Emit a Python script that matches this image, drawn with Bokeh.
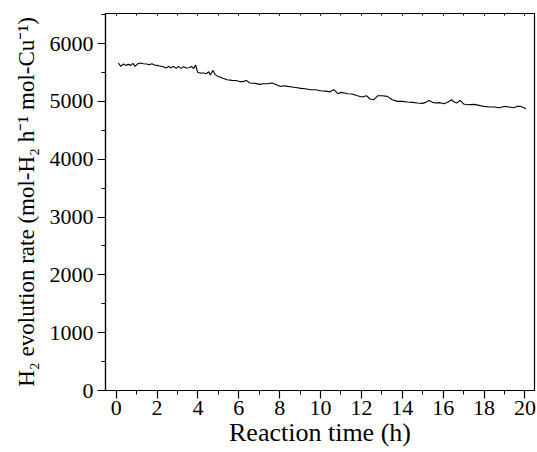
from bokeh.plotting import figure
from bokeh.models import LinearAxis, Range1d, SingleIntervalTicker, CustomJSTickFormatter
from bokeh.embed import file_html
from bokeh.resources import INLINE

time_h = [0.11, 0.23, 0.36, 0.47, 0.60, 0.72, 0.82, 0.93, 1.06, 1.18, 1.34, 1.50, 1.63, 1.75,
          1.88, 2.00, 2.12, 2.24, 2.35, 2.45, 2.57, 2.68, 2.81, 2.94, 3.04, 3.17, 3.30, 3.43,
          3.56, 3.69, 3.79, 3.89, 3.99, 4.12, 4.28, 4.41, 4.53, 4.61, 4.74, 4.85, 4.97, 5.10,
          5.18, 5.43, 5.67, 5.92, 6.08, 6.24, 6.37, 6.54, 6.81, 7.03, 7.19, 7.39, 7.63, 7.84,
          8.04, 8.20, 8.40, 8.61, 8.86, 9.05, 9.26, 9.51, 9.75, 10.00, 10.25, 10.46, 10.65,
          10.85, 11.02, 11.18, 11.34, 11.55, 11.80, 12.04, 12.25, 12.42, 12.61, 12.81, 13.02,
          13.27, 13.51, 13.76, 14.00, 14.25, 14.50, 14.74, 14.98, 15.15, 15.31, 15.48, 15.64,
          15.85, 16.05, 16.24, 16.41, 16.54, 16.67, 16.83, 17.00, 17.19, 17.52, 17.76, 18.01,
          18.25, 18.50, 18.74, 18.99, 19.23, 19.45, 19.61, 19.80, 19.96, 20.04]
rate = [5664, 5605, 5647, 5623, 5640, 5623, 5657, 5605, 5652, 5664, 5652, 5647, 5635, 5652,
        5629, 5623, 5612, 5605, 5594, 5577, 5605, 5583, 5605, 5571, 5605, 5571, 5600, 5577,
        5583, 5605, 5565, 5629, 5501, 5490, 5490, 5479, 5513, 5456, 5536, 5462, 5432, 5421,
        5404, 5375, 5363, 5358, 5341, 5346, 5363, 5318, 5311, 5294, 5306, 5306, 5318, 5289,
        5259, 5271, 5259, 5249, 5237, 5225, 5219, 5202, 5202, 5185, 5178, 5165, 5202,
        5133, 5156, 5145, 5133, 5128, 5098, 5076, 5098, 5041, 5029, 5098, 5098,
        5086, 5029, 5000, 5000, 4989, 4983, 4972, 4966, 4983, 5017, 4983, 4972,
        4978, 4960, 4989, 5029, 4989, 4972, 5017, 4955, 4943, 4948, 4931, 4913,
        4903, 4903, 4891, 4913, 4903, 4891, 4913, 4913, 4891, 4868]

x_range = (-0.52, 20.47)
y_range = (0, 6520)

FONT = "Liberation Serif"

p = figure(width=537, height=451, output_backend="svg", toolbar_location=None,
           x_range=Range1d(*x_range), y_range=Range1d(*y_range),
           min_border_left=105, min_border_right=3, min_border_top=13, min_border_bottom=61,
           x_axis_label="Reaction time (h)",
           y_axis_label="H\u2082 evolution rate (mol-H\u2082 h\u207b\u00b9 mol-Cu\u207b\u00b9)")

p.line(time_h, rate, line_color="black", line_width=1.1)

p.grid.visible = False
p.outline_line_color = "black"
p.outline_line_width = 1.2
p.background_fill_color = "white"
p.border_fill_color = "white"

p.xaxis.ticker = SingleIntervalTicker(interval=2, num_minor_ticks=2)
p.yaxis.ticker = SingleIntervalTicker(interval=1000, num_minor_ticks=2)

for ax in (p.xaxis[0], p.yaxis[0]):
    ax.axis_line_color = "black"
    ax.axis_line_width = 1.2
    ax.major_tick_line_color = "black"
    ax.minor_tick_line_color = "black"
    ax.major_tick_line_width = 1.2
    ax.minor_tick_line_width = 1.0
    ax.major_tick_in = 0
    ax.major_tick_out = 8
    ax.minor_tick_in = 0
    ax.minor_tick_out = 4
    ax.major_label_text_font = FONT
    ax.major_label_text_font_size = "22px"
    ax.major_label_text_color = "black"
    ax.axis_label_text_font = FONT
    ax.axis_label_text_font_style = "normal"
    ax.axis_label_text_color = "black"

p.xaxis.axis_label_text_font_size = "26px"
p.yaxis.axis_label_text_font_size = "23px"
p.xaxis.major_label_standoff = 2
p.xaxis.axis_label_standoff = 0
p.yaxis.major_label_standoff = 4
p.yaxis.axis_label_standoff = 8

# mirrored small ticks on the top frame edge (no labels)
blank = CustomJSTickFormatter(code="return ''")
top_ax = LinearAxis(ticker=SingleIntervalTicker(interval=2, num_minor_ticks=2),
                    formatter=blank, major_label_standoff=0, axis_label_standoff=0,
                    major_label_text_font_size="1px",
                    axis_line_color=None, major_tick_in=2, major_tick_out=0,
                    minor_tick_in=2, minor_tick_out=0,
                    major_tick_line_color="black", minor_tick_line_color="black")
p.add_layout(top_ax, "above")

out = open("out.html", "w")
out.write(file_html(p, INLINE))
out.close()
